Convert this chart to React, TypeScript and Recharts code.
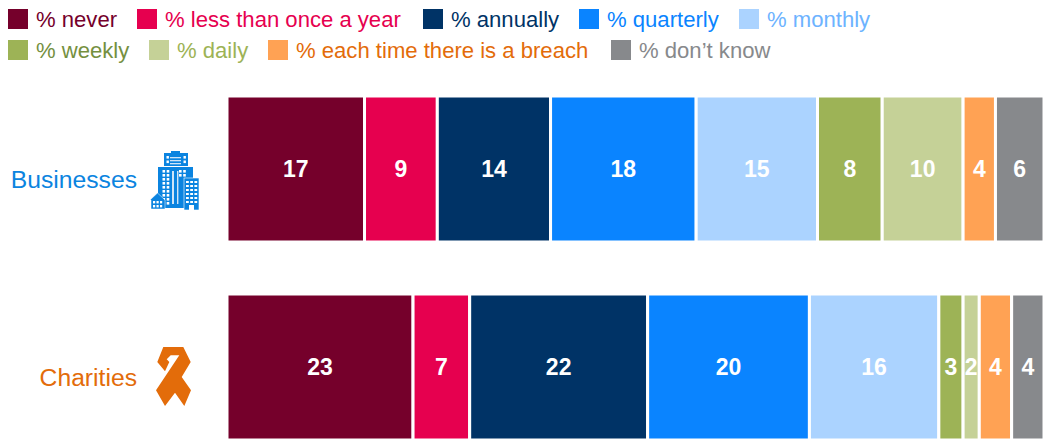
import { BarChart, Bar, XAxis, YAxis, LabelList, Legend } from "recharts";

const categories = ["Businesses", "Charities"];
const seriesNames = [
  "% never",
  "% less than once a year",
  "% annually",
  "% quarterly",
  "% monthly",
  "% weekly",
  "% daily",
  "% each time there is a breach",
  "% don\u2019t know",
];
const businessValues = [17, 9, 14, 18, 15, 8, 10, 4, 6];
const charityValues = [23, 7, 22, 20, 16, 3, 2, 4, 4];

const barColors = ["#75002B", "#E6004F", "#003366", "#0A84FF", "#ABD3FF", "#9DB356", "#C5D197", "#FFA254", "#87898C"];
const legendTextColors = ["#75002B", "#E6004F", "#003366", "#0A84FF", "#6DB3FF", "#75903F", "#9DB356", "#E36C0A", "#87898C"];
const labelColors = ["#0B84E0", "#E36C0A"];
const legendRows = [[0, 129, 415, 571, 731], [0, 141, 260, 603]];

const FONT = '"Liberation Sans", Arial, sans-serif';

const data = categories.map((name, c) => {
  const row: Record<string, string | number> = { name };
  const values = c === 0 ? businessValues : charityValues;
  seriesNames.forEach((s, i) => (row[s] = values[i]));
  return row;
});

function BuildingIcon({ color }: { color: string }) {
  const win = [];
  for (let r = 0; r < 9; r++) {
    for (let c = 0; c < 2; c++) {
      win.push(<rect key={`a${r}${c}`} x={12.5 + c * 4.2} y={19 + r * 4} width={2.6} height={2.6} fill="#fff" />);
      win.push(<rect key={`b${r}${c}`} x={29 + c * 4.2} y={19 + r * 4} width={2.6} height={2.6} fill={r > 1 ? "none" : "#fff"} />);
    }
  }
  const side = [];
  for (let r = 0; r < 6; r++) {
    for (let c = 0; c < 3; c++) {
      side.push(<rect key={`s${r}${c}`} x={36 + c * 4.2} y={30 + r * 4} width={2.8} height={2} fill="#fff" />);
    }
  }
  return (
    <g>
      <rect x={21} y={0} width={9} height={2.5} fill={color} />
      <rect x={14} y={2} width={24} height={13} fill={color} />
      <rect x={8} y={16} width={35} height={41} fill={color} />
      {[6, 9, 12].map((y) => <rect key={y} x={20} y={y} width={11} height={1.3} fill="#CFE4F7" />)}
      {[5, 9.5].map((y) => [16.5, 33.5].map((x) => <rect key={`${x}${y}`} x={x} y={y} width={2.4} height={2.6} fill="#fff" />))}
      <rect x={22} y={20} width={2} height={33} fill="#CFE4F7" />
      <rect x={27} y={20} width={1.4} height={33} fill="#CFE4F7" />
      {win}
      <rect x={34} y={27} width={15} height={32} fill={color} stroke="#fff" strokeWidth={0.6} />
      {side}
      <rect x={39} y={54} width={5} height={5} fill="#fff" />
      <path fill={color} d="M0 49L7.5 42 15 49V58H1V49Z" stroke="#fff" strokeWidth={0.5} />
      {[3, 6.5, 10].map((x) => [50, 54].map((y) => <rect key={`${x}${y}`} x={x} y={y} width={2.2} height={2.4} fill="#fff" />))}
    </g>
  );
}

function RibbonIcon({ color }: { color: string }) {
  return (
    <path
      fill={color}
      d="M7.3 0H27.3L34.7 15 25.7 30 35 43.3 28.3 59 19 45.7 9 59 0 43.3 23.3 8.3H14.7L10.7 12.3 13.3 15 9 24.3 1.3 15Z"
    />
  );
}

function CategoryTick({ y, payload, index }: any) {
  const color = labelColors[index];
  // the label sits lower than the bar centre in the reference
  return (
    <g>
      <text x={137} y={y + 19} textAnchor="end" fontFamily={FONT} fontSize={24.7} fill={color}>
        {payload.value}
      </text>
      {index === 0 ? (
        <g transform={`translate(150 ${y - 18})`}>
          <BuildingIcon color={color} />
        </g>
      ) : (
        <g transform={`translate(156 ${y - 20})`}>
          <RibbonIcon color={color} />
        </g>
      )}
    </g>
  );
}

function LegendRows() {
  let n = 0;
  return (
    <div style={{ position: "absolute", left: 8, top: 9, fontFamily: FONT, fontSize: 22.1 }}>
      {legendRows.map((row, r) => (
        <div key={r}>
          {row.map((left) => {
            const i = n++;
            return (
              <div key={i} style={{ position: "absolute", left, top: r * 31, display: "flex", alignItems: "center", height: 20, whiteSpace: "nowrap" }}>
                <span style={{ width: 20, height: 20, background: barColors[i], marginRight: 8 }} />
                <span style={{ color: legendTextColors[i], position: "relative", top: 1 }}>{seriesNames[i]}</span>
              </div>
            );
          })}
        </div>
      ))}
    </div>
  );
}

export default function App() {
  return (
    <div style={{ position: "absolute", left: 0, top: 0, width: 1049, height: 439, overflow: "hidden", background: "#fff" }}>
      <BarChart
        width={1049}
        height={466}
        data={data}
        layout="vertical"
        barCategoryGap={26}
        margin={{ top: 70, right: 5, bottom: 0, left: 0 }}
      >
        <XAxis type="number" domain={[0, 101]} hide />
        <YAxis type="category" dataKey="name" axisLine={false} tickLine={false} width={227} tick={<CategoryTick />} interval={0} />
        <Legend content={<LegendRows />} wrapperStyle={{ left: 0, top: 0, width: 1049 }} />
        {seriesNames.map((s, i) => (
          <Bar key={s} dataKey={s} stackId="a" fill={barColors[i]} stroke="#fff" strokeWidth={3} isAnimationActive={false}>
            <LabelList dataKey={s} position="center" fill="#fff" fontFamily={FONT} fontSize={23} fontWeight={700} />
          </Bar>
        ))}
      </BarChart>
    </div>
  );
}
